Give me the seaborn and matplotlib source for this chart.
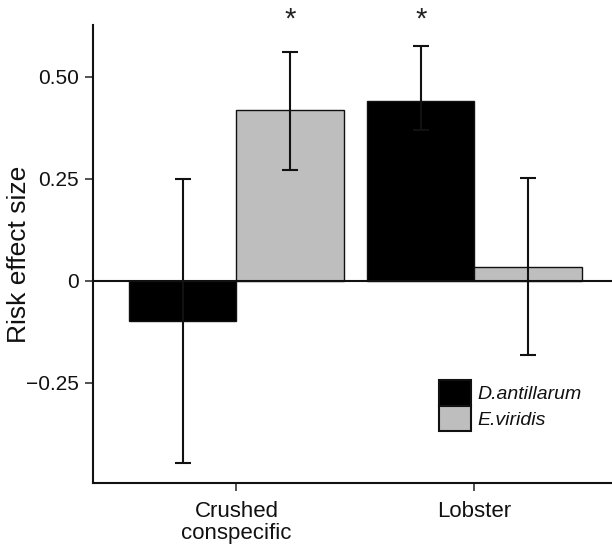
import numpy as np
import pandas as pd
import matplotlib
matplotlib.use("Agg")
import matplotlib.pyplot as plt
import seaborn as sns
from matplotlib.patches import Patch
from matplotlib.ticker import FuncFormatter

# values
cues = ["Crushed\nconspecific", "Lobster"]
species = ["D.antillarum", "E.viridis"]
effect_dant = [-0.098, 0.441]
effect_evir = [0.419, 0.035]
upper_dant = [0.250, 0.575]
lower_dant = [-0.445, 0.370]
upper_evir = [0.560, 0.252]
lower_evir = [0.273, -0.181]
significant_dant = [False, True]
significant_evir = [True, False]

colors = {"D.antillarum": "#000000", "E.viridis": "#bebebe"}

data = pd.DataFrame({
    "cue": cues * 2,
    "species": [species[0]] * 2 + [species[1]] * 2,
    "effect": effect_dant + effect_evir,
    "upper": upper_dant + upper_evir,
    "lower": lower_dant + lower_evir,
    "sig": significant_dant + significant_evir,
})

sns.set_style("white")
plt.rcParams["font.family"] = ["Liberation Sans", "DejaVu Sans"]

fig = plt.figure(figsize=(6.12, 5.45), dpi=100)
ax = fig.add_axes([93 / 612, 62 / 545, 1 - 93 / 612, (483 - 25) / 545])

sns.barplot(data=data, x="cue", y="effect", hue="species", order=cues,
            hue_order=species, palette=colors, width=0.9, errorbar=None,
            edgecolor="#111111", linewidth=1.0, saturation=1, legend=False, ax=ax)

# error bars and significance marks, matched to the drawn bars
for container, sp in zip(ax.containers, species):
    sub = data[data["species"] == sp].set_index("cue").loc[cues]
    for bar, (_, row) in zip(container, sub.iterrows()):
        xc = bar.get_x() + bar.get_width() / 2
        ax.errorbar(xc, row["effect"],
                    yerr=[[row["effect"] - row["lower"]], [row["upper"] - row["effect"]]],
                    fmt="none", ecolor="#111111", elinewidth=1.5, capsize=5.5,
                    capthick=1.5, zorder=5)
        if row["sig"]:
            ax.text(xc, 0.64, "*", ha="center", va="center",
                    fontsize=21, color="#222222", clip_on=False)

ax.axhline(0, color="#111111", lw=1.5, zorder=4)

ax.set_xlim(-0.603, 1.578)
ax.set_ylim(-0.495, 0.627)
ax.set_yticks([-0.25, 0, 0.25, 0.5])
ax.yaxis.set_major_formatter(FuncFormatter(
    lambda v, p: "0" if abs(v) < 1e-9 else ("\u2212%.2f" % abs(v) if v < 0 else "%.2f" % v)))

sns.despine(ax=ax, top=True, right=True)
for s in ["left", "bottom"]:
    ax.spines[s].set_color("#111111")
    ax.spines[s].set_linewidth(1.5)

ax.tick_params(axis="y", labelsize=15, length=6, width=1.2, color="#333333",
               pad=4, left=True, labelcolor="#111111")
ax.tick_params(axis="x", labelsize=16, length=6, width=1.2, color="#333333",
               pad=7, bottom=True, labelcolor="#111111")
for lab in ax.get_xticklabels():
    lab.set_linespacing(1.05)

ax.set_xlabel("")
ax.set_ylabel("Risk effect size", fontsize=19, color="#111111")
ax.yaxis.set_label_coords(-0.12, 0.5)

handles = [Patch(facecolor=colors[s], edgecolor="#111111", linewidth=1.5) for s in species]
leg = ax.legend(handles, species, loc="upper left",
                bbox_to_anchor=(439 / 612, 1 - 380 / 545), bbox_transform=fig.transFigure,
                frameon=False, fontsize=14, handlelength=1.66, handleheight=1.66,
                handletextpad=0.3, labelspacing=0.0, borderpad=0, borderaxespad=0)
for t in leg.get_texts():
    t.set_fontstyle("italic")
    t.set_color("#111111")

fig.savefig("out.png", dpi=100)
